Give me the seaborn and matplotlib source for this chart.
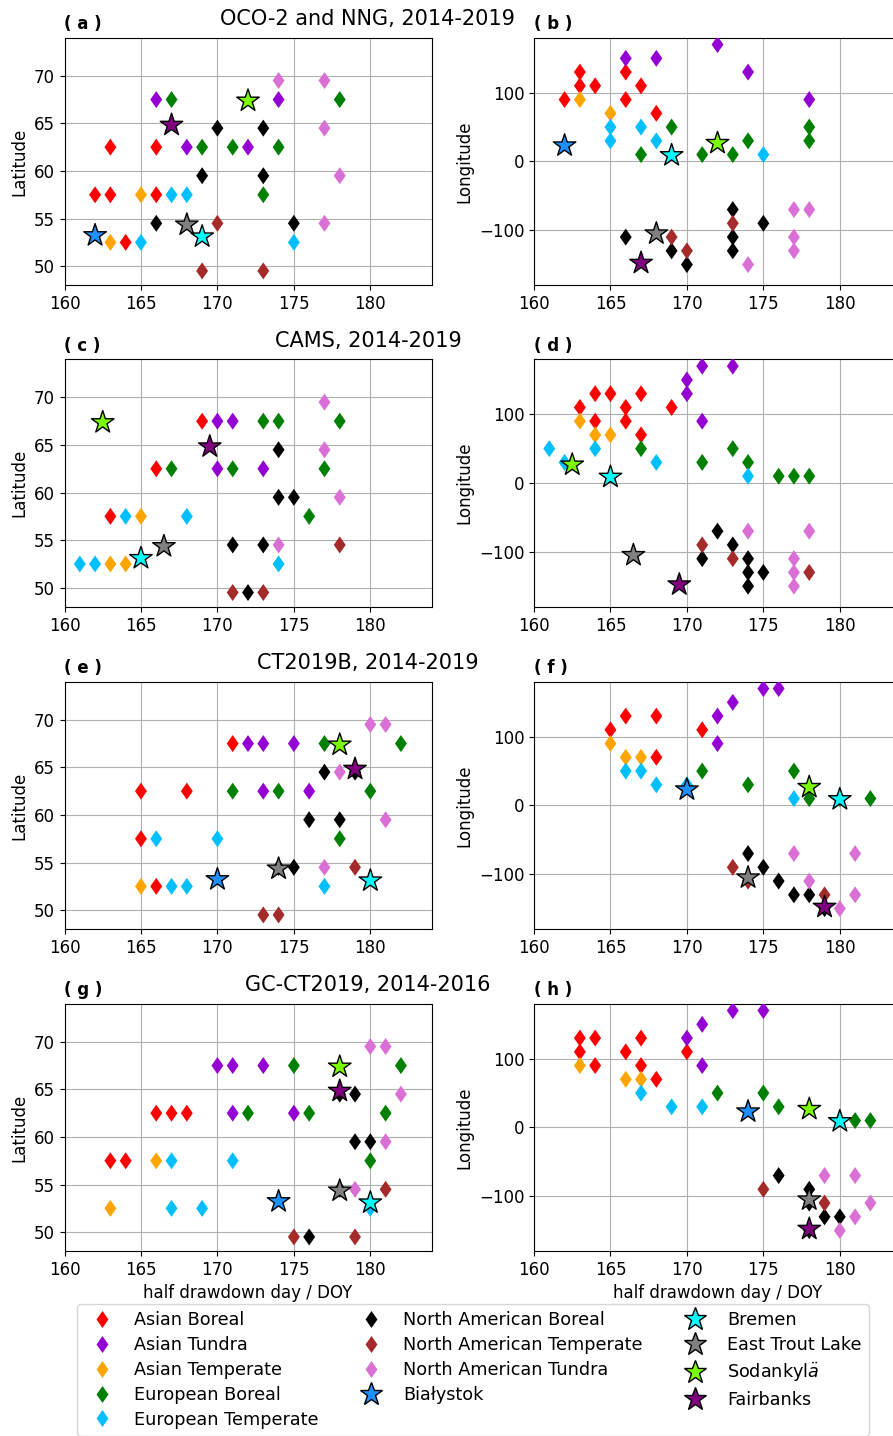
import numpy as np
import pandas as pd
import matplotlib
matplotlib.use("Agg")
import matplotlib.pyplot as plt
from matplotlib.lines import Line2D
import seaborn as sns

# ---------------------------------------------------------------- categories
REGIONS = [
    "Asian Boreal", "Asian Tundra", "Asian Temperate", "European Boreal",
    "European Temperate", "North American Boreal", "North American Temperate",
    "North American Tundra",
]
REGION_COLORS = ["red", "darkviolet", "orange", "green", "deepskyblue",
                 "black", "brown", "orchid"]

STATIONS = ["Białystok", "Bremen", "East Trout Lake", r"Sodankyl$\ddot{a}$", "Fairbanks"]
STATION_COLORS = ["dodgerblue", "cyan", "gray", "lawngreen", "purple"]
STATION_LAT = [53.23, 53.10, 54.35, 67.37, 64.83]
STATION_LON = [23.03, 8.85, -104.99, 26.63, -147.72]

PRODUCTS = ["OCO-2 and NNG, 2014-2019", "CAMS, 2014-2019",
            "CT2019B, 2014-2019", "GC-CT2019, 2014-2016"]

# half drawdown day of the stations, per product (nan = not available)
oco2_station_doy = [162, 169, 168, 172, 167]
cams_station_doy = [np.nan, 165, 166.5, 162.5, 169.5]
ct_station_doy = [170, 180, 174, 178, 179]
gc_station_doy = [174, 180, 178, 178, 178]

# ---------------------------------------------------------------- regions: (DOY, latitude) / (DOY, longitude)
oco2_lat = {
    "Asian Boreal": [(162, 57.5), (163, 62.5), (163, 57.5), (164, 52.5), (166, 62.5), (166, 57.5)],
    "Asian Tundra": [(166, 67.5), (168, 62.5), (172, 62.5), (174, 67.5)],
    "Asian Temperate": [(163, 52.5), (165, 57.5)],
    "European Boreal": [(167, 67.5), (169, 62.5), (171, 62.5), (173, 57.5), (174, 62.5), (178, 67.5)],
    "European Temperate": [(165, 52.5), (167, 57.5), (168, 57.5), (175, 52.5)],
    "North American Boreal": [(166, 54.5), (169, 59.5), (170, 64.5), (173, 64.5), (173, 59.5), (175, 54.5)],
    "North American Temperate": [(169, 49.5), (170, 54.5), (173, 49.5)],
    "North American Tundra": [(174, 69.5), (177, 69.5), (177, 64.5), (178, 59.5), (177, 54.5)],
}
oco2_lon = {
    "Asian Boreal": [(162, 90), (163, 130), (163, 110), (164, 110), (166, 130), (166, 90), (167, 110), (168, 70)],
    "Asian Tundra": [(166, 150), (168, 150), (172, 170), (174, 130), (178, 90)],
    "Asian Temperate": [(163, 90), (165, 70)],
    "European Boreal": [(167, 10), (169, 50), (171, 10), (173, 10), (174, 30), (178, 50), (178, 30)],
    "European Temperate": [(165, 50), (165, 30), (167, 50), (168, 30), (175, 10)],
    "North American Boreal": [(166, -110), (169, -130), (170, -150), (173, -70), (173, -110), (173, -130), (175, -90)],
    "North American Temperate": [(169, -110), (170, -130), (173, -90)],
    "North American Tundra": [(174, -150), (177, -70), (177, -110), (177, -130), (178, -70)],
}
cams_lat = {
    "Asian Boreal": [(169, 67.5), (166, 62.5), (163, 57.5)],
    "Asian Tundra": [(170, 67.5), (171, 67.5), (170, 62.5), (173, 62.5)],
    "Asian Temperate": [(165, 57.5), (163, 52.5), (164, 52.5)],
    "European Boreal": [(167, 62.5), (171, 62.5), (173, 67.5), (174, 67.5), (177, 62.5), (176, 57.5), (178, 67.5)],
    "European Temperate": [(164, 57.5), (168, 57.5), (161, 52.5), (162, 52.5), (174, 52.5)],
    "North American Boreal": [(174, 64.5), (174, 59.5), (175, 59.5), (171, 54.5), (173, 54.5), (172, 49.5)],
    "North American Temperate": [(171, 49.5), (173, 49.5), (178, 54.5)],
    "North American Tundra": [(177, 69.5), (177, 64.5), (178, 59.5), (174, 54.5)],
}
cams_lon = {
    "Asian Boreal": [(163, 110), (164, 130), (164, 90), (165, 130), (166, 110), (166, 90), (167, 130), (167, 70), (169, 110)],
    "Asian Tundra": [(170, 150), (170, 130), (171, 170), (173, 170), (171, 90)],
    "Asian Temperate": [(163, 90), (164, 70), (165, 70)],
    "European Boreal": [(167, 50), (171, 30), (173, 50), (174, 30), (176, 10), (177, 10), (178, 10)],
    "European Temperate": [(161, 50), (162, 30), (164, 50), (168, 30), (174, 10)],
    "North American Boreal": [(172, -70), (173, -90), (171, -110), (174, -110), (174, -130), (174, -150), (175, -130)],
    "North American Temperate": [(171, -90), (173, -110), (178, -130)],
    "North American Tundra": [(174, -70), (178, -70), (177, -110), (177, -130), (177, -150)],
}
ct_lat = {
    "Asian Boreal": [(171, 67.5), (165, 62.5), (168, 62.5), (165, 57.5), (166, 52.5)],
    "Asian Tundra": [(172, 67.5), (173, 67.5), (175, 67.5), (173, 62.5), (176, 62.5)],
    "Asian Temperate": [(165, 52.5)],
    "European Boreal": [(171, 62.5), (174, 62.5), (177, 67.5), (178, 57.5), (180, 62.5), (182, 67.5)],
    "European Temperate": [(166, 57.5), (170, 57.5), (167, 52.5), (168, 52.5), (177, 52.5)],
    "North American Boreal": [(177, 64.5), (176, 59.5), (178, 59.5), (175, 54.5), (179, 64.5), (174, 54.5)],
    "North American Temperate": [(173, 49.5), (174, 49.5), (179, 54.5)],
    "North American Tundra": [(180, 69.5), (181, 69.5), (178, 64.5), (181, 59.5), (177, 54.5)],
}
ct_lon = {
    "Asian Boreal": [(165, 110), (166, 130), (168, 130), (168, 70), (171, 110)],
    "Asian Tundra": [(172, 130), (172, 90), (173, 150), (175, 170), (176, 170)],
    "Asian Temperate": [(165, 90), (166, 70), (167, 70)],
    "European Boreal": [(171, 50), (174, 30), (177, 50), (178, 10), (182, 10), (180, 10)],
    "European Temperate": [(166, 50), (167, 50), (168, 30), (170, 30), (177, 10)],
    "North American Boreal": [(174, -70), (175, -90), (176, -110), (177, -130), (178, -130), (179, -150)],
    "North American Temperate": [(173, -90), (174, -110), (179, -130)],
    "North American Tundra": [(177, -70), (181, -70), (178, -110), (181, -130), (180, -150)],
}
gc_lat = {
    "Asian Boreal": [(166, 62.5), (167, 62.5), (168, 62.5), (163, 57.5), (164, 57.5)],
    "Asian Tundra": [(170, 67.5), (171, 67.5), (173, 67.5), (171, 62.5), (175, 62.5)],
    "Asian Temperate": [(163, 52.5), (166, 57.5)],
    "European Boreal": [(175, 67.5), (172, 62.5), (176, 62.5), (181, 62.5), (180, 57.5), (182, 67.5)],
    "European Temperate": [(167, 57.5), (171, 57.5), (167, 52.5), (169, 52.5), (180, 52.5)],
    "North American Boreal": [(179, 64.5), (178, 64.5), (179, 59.5), (180, 59.5), (176, 49.5), (178, 54.5)],
    "North American Temperate": [(175, 49.5), (179, 49.5), (181, 54.5)],
    "North American Tundra": [(180, 69.5), (181, 69.5), (182, 64.5), (181, 59.5), (179, 54.5)],
}
gc_lon = {
    "Asian Boreal": [(163, 130), (163, 110), (164, 130), (164, 90), (166, 110), (167, 130), (167, 90), (168, 70), (170, 110)],
    "Asian Tundra": [(170, 130), (171, 150), (171, 90), (173, 170), (175, 170)],
    "Asian Temperate": [(163, 90), (166, 70), (167, 70)],
    "European Boreal": [(172, 50), (175, 50), (176, 30), (181, 10), (182, 10)],
    "European Temperate": [(167, 50), (169, 30), (171, 30)],
    "North American Boreal": [(176, -70), (178, -90), (178, -110), (179, -130), (180, -130), (178, -150)],
    "North American Temperate": [(175, -90), (179, -110)],
    "North American Tundra": [(179, -70), (181, -70), (182, -110), (181, -130), (180, -150)],
}

ROWS = [
    (PRODUCTS[0], oco2_lat, oco2_lon, oco2_station_doy),
    (PRODUCTS[1], cams_lat, cams_lon, cams_station_doy),
    (PRODUCTS[2], ct_lat, ct_lon, ct_station_doy),
    (PRODUCTS[3], gc_lat, gc_lon, gc_station_doy),
]

region_palette = dict(zip(REGIONS, REGION_COLORS))
station_palette = dict(zip(STATIONS, STATION_COLORS))

# slender diamond marker (width/height ~0.7)
DIAMOND = [(0, 1), (0.7, 0), (0, -1), (-0.7, 0), (0, 1)]
DIAMOND_S = 150
STAR_S = 290


def region_frame(points):
    rows = [(r, d, v) for r in REGIONS for d, v in points.get(r, [])]
    return pd.DataFrame(rows, columns=["region", "doy", "value"])


def station_frame(doys):
    df = pd.DataFrame({"station": STATIONS, "doy": doys,
                       "lat": STATION_LAT, "lon": STATION_LON})
    return df.dropna()


# ---------------------------------------------------------------- figure
W, H = 893, 1436
fig = plt.figure(figsize=(W / 100, H / 100), dpi=100)

ax_w, ax_h = 367 / W, 247.5 / H
left_x, right_x = 64.5 / W, 534 / W
row_tops = [37.7, 359.3, 681.7, 1003.7]
letters = "abcdefgh"

for i, (title, lat_pts, lon_pts, st_doy) in enumerate(ROWS):
    top = row_tops[i]
    bottom = 1 - (top + 247.5) / H
    ax_lat = fig.add_axes([left_x, bottom, ax_w, ax_h])
    ax_lon = fig.add_axes([right_x, bottom, ax_w, ax_h])
    st = station_frame(st_doy)

    for j, (ax, pts, coord) in enumerate([(ax_lat, lat_pts, "lat"), (ax_lon, lon_pts, "lon")]):
        sns.scatterplot(data=region_frame(pts), x="doy", y="value", hue="region",
                        hue_order=REGIONS, palette=region_palette, marker=DIAMOND,
                        s=DIAMOND_S, linewidth=0, legend=False, ax=ax, zorder=3)
        sns.scatterplot(data=st, x="doy", y=coord, hue="station", hue_order=STATIONS,
                        palette=station_palette, marker="*", s=STAR_S,
                        edgecolor="black", linewidth=1.0, legend=False, ax=ax, zorder=4)
        ax.set_xlim(160, 184)
        ax.set_xticks([160, 165, 170, 175, 180])
        if coord == "lat":
            ax.set_ylim(48, 74)
            ax.set_yticks([50, 55, 60, 65, 70])
            ax.set_ylabel("Latitude", fontsize=12)
        else:
            ax.set_ylim(-180, 180)
            ax.set_yticks([-100, 0, 100])
            ax.set_ylabel("Longitude", fontsize=12)
        ax.grid(True, color="#b0b0b0", linewidth=0.8)
        ax.tick_params(labelsize=12)
        if i == 3:
            ax.set_xlabel("half drawdown day / DOY", fontsize=12)
        else:
            ax.set_xlabel("")
        ax.set_title(f"( {letters[2 * i + j]} )", loc="left",
                     fontweight="bold", fontsize=12)

    fig.text(368 / W, 1 - (top - 12.5) / H, title, ha="center", va="baseline", fontsize=15)

# ---------------------------------------------------------------- legend
handles = [Line2D([], [], linestyle="none", marker=DIAMOND, markersize=np.sqrt(DIAMOND_S),
                  markerfacecolor=c, markeredgewidth=0) for c in REGION_COLORS]
handles += [Line2D([], [], linestyle="none", marker="*", markersize=np.sqrt(STAR_S),
                   markerfacecolor=c, markeredgecolor="black", markeredgewidth=1.0)
            for c in STATION_COLORS]
fig.legend(handles, REGIONS + STATIONS, loc="upper left", ncol=3, fontsize=12.7,
           labelspacing=0.39, bbox_to_anchor=(77.3 / W, 1 - 1304 / H),
           borderaxespad=0, frameon=True)

fig.savefig("out.png", dpi=100)
